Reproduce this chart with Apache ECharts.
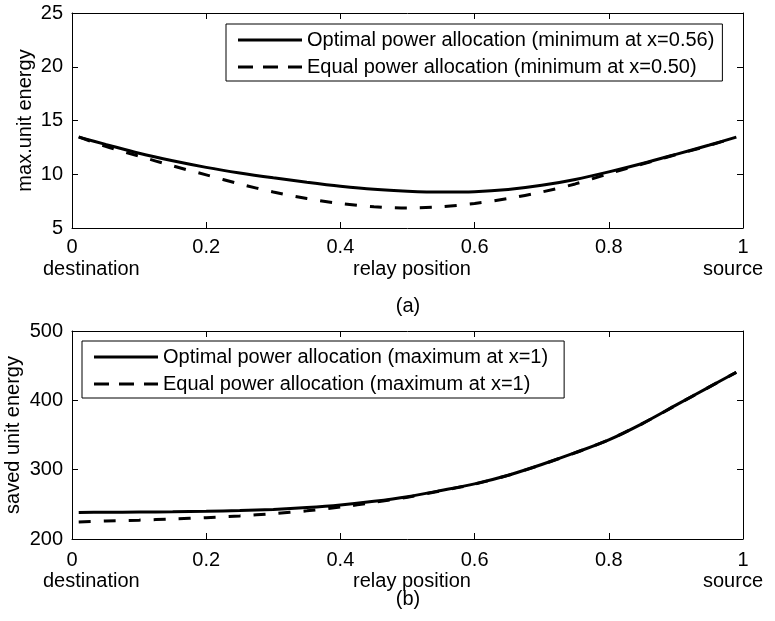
<!DOCTYPE html>
<html>
<head>
<meta charset="utf-8">
<script src="https://cdn.jsdelivr.net/npm/echarts@6/dist/echarts.min.js"></script>
<style>
html,body{margin:0;padding:0;background:#fff;}
#chart{width:775px;height:621px;}
</style>
</head>
<body>
<div id="chart"></div>
<script>
// ---- data ----
const relayPos = [0.01, 0.05, 0.10, 0.15, 0.20, 0.25, 0.30, 0.35, 0.40, 0.45, 0.50,
                  0.55, 0.60, 0.65, 0.70, 0.75, 0.80, 0.85, 0.90, 0.95, 0.99];
const optimalMaxEnergy = [13.45, 12.78, 11.95, 11.25, 10.64, 10.12, 9.67, 9.26, 8.89, 8.60, 8.43,
                          8.35, 8.38, 8.58, 8.97, 9.52, 10.22, 11.00, 11.85, 12.72, 13.45];
const equalMaxEnergy = [13.47, 12.60, 11.68, 10.78, 9.94, 9.10, 8.35, 7.74, 7.28, 6.98, 6.87,
                        6.98, 7.28, 7.74, 8.35, 9.10, 10.05, 10.95, 11.82, 12.68, 13.46];
const optimalSaved = [238.3, 238.5, 238.9, 239.3, 239.9, 241.1, 242.7, 245.3, 249.0, 254.3, 261.0,
                      269.9, 279.5, 292.0, 307.5, 324.5, 343.0, 366.5, 393.0, 419.5, 440.5];
const equalSaved = [224.5, 226.0, 227.2, 228.8, 230.8, 233.3, 236.6, 240.6, 246.0, 252.8, 260.3,
                    269.5, 279.2, 291.8, 307.3, 324.4, 342.9, 366.4, 392.9, 419.4, 440.4];
const namesA = ['Optimal power allocation (minimum at x=0.56)', 'Equal power allocation (minimum at x=0.50)'];
const namesB = ['Optimal power allocation (maximum at x=1)', 'Equal power allocation (maximum at x=1)'];
const yLabelA = 'max.unit energy';
const yLabelB = 'saved unit energy';
const xNames = ['destination', 'relay position', 'source'];
const captions = ['(a)', '(b)'];

// ---- build ----
const FONT = 'Liberation Sans, Arial, Helvetica, sans-serif';
const FS = 20;
const pairs = (ys) => relayPos.map((x, i) => [x, ys[i]]);
const SOLID_ICON = 'path://M0,0H64V3H0Z';
const DASH_ICON = 'path://M0,0H15V3H0ZM25,0H40V3H25ZM50,0H64V3H50Z';

const chart = echarts.init(document.getElementById('chart'), null, {renderer: 'canvas'});

function xAxisMain(gridIndex, margin) {
  return {
    type: 'value', gridIndex, min: 0, max: 1, interval: 0.2, position: 'bottom',
    axisLine: {show: true, onZero: false, lineStyle: {color: '#000', width: 1}},
    axisTick: {show: true, inside: true, length: 6, lineStyle: {color: '#000'}},
    axisLabel: {color: '#000', fontSize: FS, fontFamily: FONT, margin: margin},
    splitLine: {show: false}
  };
}
function xAxisTop(gridIndex) {
  return {
    type: 'value', gridIndex, min: 0, max: 1, interval: 0.2, position: 'top',
    axisLine: {show: true, onZero: false, lineStyle: {color: '#000', width: 1}},
    axisTick: {show: true, inside: true, length: 6, lineStyle: {color: '#000'}},
    axisLabel: {show: false}, splitLine: {show: false}
  };
}
function yAxisMain(gridIndex, min, max, interval, name, gap) {
  return {
    type: 'value', gridIndex, min, max, interval, position: 'left',
    name, nameLocation: 'middle', nameGap: gap, nameMoveOverlap: false,
    nameTextStyle: {color: '#000', fontSize: FS, fontFamily: FONT},
    axisLine: {show: true, onZero: false, lineStyle: {color: '#000', width: 1}},
    axisTick: {show: true, inside: true, length: 6, lineStyle: {color: '#000'}},
    axisLabel: {color: '#000', fontSize: FS, fontFamily: FONT, margin: 9},
    splitLine: {show: false}
  };
}
function yAxisRight(gridIndex, min, max, interval) {
  return {
    type: 'value', gridIndex, min, max, interval, position: 'right',
    axisLine: {show: true, onZero: false, lineStyle: {color: '#000', width: 1}},
    axisTick: {show: true, inside: true, length: 6, lineStyle: {color: '#000'}},
    axisLabel: {show: false}, splitLine: {show: false}
  };
}
function lineSeries(name, xi, yi, data, dashed) {
  return {
    type: 'line', name, xAxisIndex: xi, yAxisIndex: yi, data,
    smooth: 0.3, symbol: 'none', showSymbol: false,
    lineStyle: {color: '#000', width: 3, type: dashed ? [12, 13] : 'solid', cap: 'butt'},
    itemStyle: {color: '#000'},
    emphasis: {disabled: true}
  };
}
function legend(names, left, top, gap, padRight) {
  return {
    data: [{name: names[0], icon: SOLID_ICON}, {name: names[1], icon: DASH_ICON}],
    left, top, orient: 'vertical',
    itemWidth: 64, itemHeight: 3, itemGap: gap,
    padding: [6, padRight, 4, 12],
    borderColor: '#000', borderWidth: 1, backgroundColor: '#fff',
    itemStyle: {color: '#000'},
    textStyle: {color: '#000', fontSize: FS, fontFamily: FONT, lineHeight: 20},
    selectedMode: false
  };
}
function txt(text, x, y, align) {
  return {
    type: 'text', x, y,
    style: {text, fill: '#000', fontSize: FS, fontFamily: FONT, textAlign: align, textVerticalAlign: 'middle'}
  };
}

chart.setOption({
  animation: false,
  backgroundColor: '#fff',
  grid: [
    {left: 72, top: 13, width: 671, height: 215, outerBoundsMode: 'none', containLabel: false},
    {left: 72, top: 331, width: 671, height: 208, outerBoundsMode: 'none', containLabel: false}
  ],
  xAxis: [xAxisMain(0, 9), xAxisTop(0), xAxisMain(1, 11), xAxisTop(1)],
  yAxis: [
    yAxisMain(0, 5, 25, 5, yLabelA, 37), yAxisRight(0, 5, 25, 5),
    yAxisMain(1, 200, 500, 100, yLabelB, 49), yAxisRight(1, 200, 500, 100)
  ],
  legend: [legend(namesA, 226, 24, 7, 8), legend(namesB, 82, 341, 7, 16)],
  series: [
    lineSeries(namesA[1], 0, 0, pairs(equalMaxEnergy), true),
    lineSeries(namesA[0], 0, 0, pairs(optimalMaxEnergy), false),
    lineSeries(namesB[1], 2, 2, pairs(equalSaved), true),
    lineSeries(namesB[0], 2, 2, pairs(optimalSaved), false)
  ],
  graphic: [
    txt(xNames[0], 43, 269, 'left'),
    txt(xNames[1], 412, 269, 'center'),
    txt(xNames[2], 733, 269, 'center'),
    txt(captions[0], 408, 306, 'center'),
    txt(xNames[0], 43, 581, 'left'),
    txt(xNames[1], 412, 581, 'center'),
    txt(xNames[2], 733, 581, 'center'),
    txt(captions[1], 408, 599, 'center')
  ]
});
</script>
</body>
</html>
